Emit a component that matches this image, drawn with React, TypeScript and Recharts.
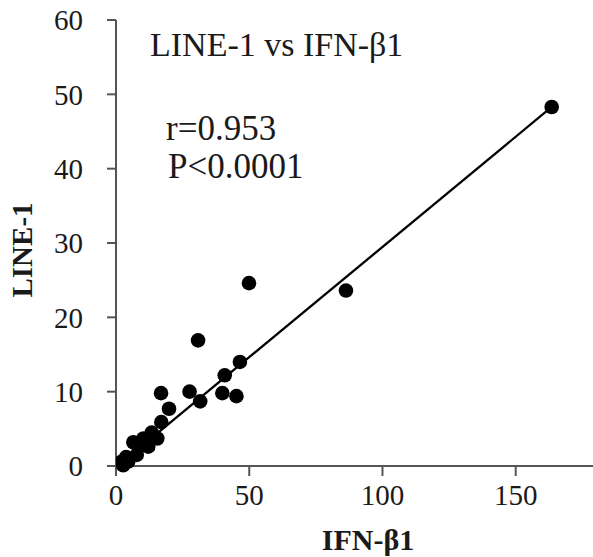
import { ScatterChart, Scatter, XAxis, YAxis, ReferenceLine, Label } from "recharts";

// IFN-β1 (x) vs LINE-1 (y)
const ifnB1 = [
  163.5, 86.3, 49.9, 30.8, 46.5, 40.8, 16.9, 27.6, 31.6, 39.9, 45.2, 19.9,
  17.0, 13.4, 15.5, 10.3, 6.5, 12.1, 8.7, 7.8, 3.8, 2.1, 4.6, 2.7,
];
const line1 = [
  48.3, 23.6, 24.6, 16.9, 14.0, 12.2, 9.8, 10.0, 8.7, 9.8, 9.4, 7.7,
  5.9, 4.5, 3.7, 3.7, 3.2, 2.6, 2.6, 1.5, 1.2, 0.6, 0.6, 0.1,
];
const fitStart = { x: 2, y: 0.4 };
const fitEnd = { x: 163.5, y: 48.3 };

const xTicks = [0, 50, 100, 150];
const yTicks = [0, 10, 20, 30, 40, 50, 60];

const points = ifnB1.map((x, i) => ({ x, y: line1[i] }));

const FONT = '"Liberation Serif", "Times New Roman", serif';
const AXIS = "#555";
const TEXT = "#1a1a1a";

const Dot = (props: any) => <circle cx={props.cx} cy={props.cy} r={7.3} fill="#000" />;

export default function App() {
  return (
    <div style={{ position: "absolute", left: 0, top: 0, width: 593, height: 557, background: "#fff" }}>
      <ScatterChart width={593} height={557} margin={{ top: 20, right: 0, bottom: 0, left: 0 }}>
        <XAxis
          type="number"
          dataKey="x"
          domain={[0, 179]}
          ticks={xTicks}
          allowDataOverflow
          height={91}
          tickSize={10}
          tickMargin={8}
          stroke={AXIS}
          strokeWidth={2}
          tick={{ fontSize: 29, fill: TEXT, fontFamily: FONT }}
        >
          <Label
            content={() => (
              <text
                x={368}
                y={550}
                textAnchor="middle"
                fontFamily={FONT}
                fontWeight="bold"
                fontSize={30}
                fill={TEXT}
              >
                IFN-β1
              </text>
            )}
          />
        </XAxis>
        <YAxis
          type="number"
          dataKey="y"
          domain={[0, 60]}
          ticks={yTicks}
          width={116}
          tickSize={9}
          tickMargin={24}
          stroke={AXIS}
          strokeWidth={2}
          tick={{ fontSize: 29, fill: TEXT, fontFamily: FONT }}
        >
          <Label
            content={() => (
              <text
                x={32}
                y={250}
                transform="rotate(-90 32 250)"
                textAnchor="middle"
                fontFamily={FONT}
                fontWeight="bold"
                fontSize={29}
                fill={TEXT}
              >
                LINE-1
              </text>
            )}
          />
        </YAxis>
        <ReferenceLine
          segment={[fitStart, fitEnd]}
          stroke="#000"
          strokeWidth={2.3}
          ifOverflow="visible"
        />
        <Scatter data={points} fill="#000" shape={Dot} isAnimationActive={false} />
      </ScatterChart>
      <svg
        width={593}
        height={557}
        style={{ position: "absolute", left: 0, top: 0, pointerEvents: "none" }}
      >
        <g fontFamily={FONT} fill={TEXT}>
          <text x={150} y={56} fontSize={34}>LINE-1 vs IFN-β1</text>
          <text x={166} y={140} fontSize={35}>r=0.953</text>
          <text x={168} y={178} fontSize={35}>P&lt;0.0001</text>
        </g>
      </svg>
    </div>
  );
}
